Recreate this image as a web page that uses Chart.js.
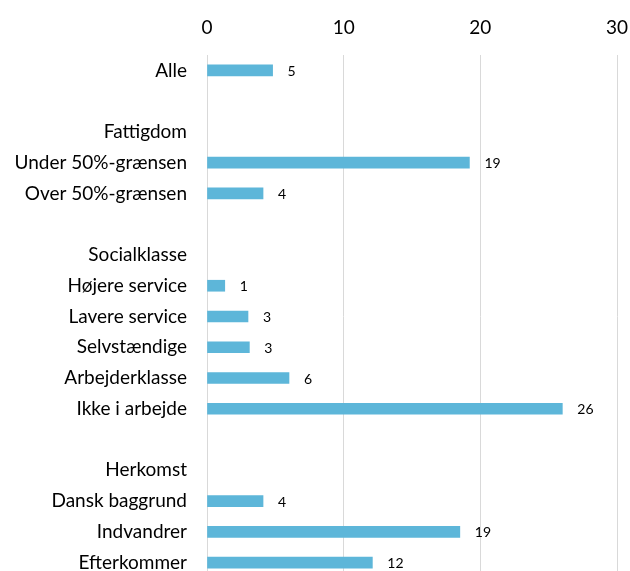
<!DOCTYPE html>
<html>
<head>
<meta charset="utf-8">
<script src="https://cdn.jsdelivr.net/npm/chart.js@4"></script>
<style>
html,body{margin:0;padding:0;background:#fff;overflow:hidden;width:630px;height:571px;}
#c{position:absolute;left:0;top:0;}
</style>
</head>
<body>
<canvas id="c" width="630" height="578"></canvas>
<script>
const categories = ['Alle', '', 'Fattigdom', 'Under 50%-grænsen', 'Over 50%-grænsen', '', 'Socialklasse', 'Højere service', 'Lavere service', 'Selvstændige', 'Arbejderklasse', 'Ikke i arbejde', '', 'Herkomst', 'Dansk baggrund', 'Indvandrer', 'Efterkommer'];
const values = [4.8, null, null, 19.2, 4.1, null, null, 1.3, 3.0, 3.1, 6.0, 26.0, null, null, 4.1, 18.5, 12.1];
const xTicks = [0, 10, 20, 30];

const FONT = 'Lato, "Open Sans", sans-serif';

const valueLabels = {
  id: 'valueLabels',
  afterDatasetsDraw(chart) {
    const ctx = chart.ctx;
    const meta = chart.getDatasetMeta(0);
    ctx.save();
    ctx.font = '14px ' + FONT;
    ctx.fillStyle = '#000';
    ctx.textAlign = 'left';
    ctx.textBaseline = 'middle';
    meta.data.forEach((bar, i) => {
      const v = values[i];
      if (v === null || v === undefined) return;
      ctx.fillText(String(Math.round(v)), bar.x + 15, bar.y + 1);
    });
    ctx.restore();
  }
};

function noPad(s) { s.paddingLeft = 0; s.paddingRight = 0; s.paddingTop = 0; s.paddingBottom = 0; }

new Chart(document.getElementById('c'), {
  type: 'bar',
  data: {
    labels: categories,
    datasets: [{
      data: values,
      backgroundColor: '#5DB6D9',
      barThickness: 11
    }]
  },
  options: {
    indexAxis: 'y',
    responsive: false,
    maintainAspectRatio: false,
    animation: false,
    devicePixelRatio: 1,
    layout: { padding: { left: 0, right: 13, top: 0, bottom: 0 } },
    plugins: { legend: { display: false }, tooltip: { enabled: false } },
    scales: {
      x: {
        position: 'top',
        min: 0, max: 30,
        afterBuildTicks(s) { s.ticks = xTicks.map(v => ({ value: v })); },
        afterFit(s) { s.height = 55; noPad(s); },
        grid: { color: '#d9d9d9', lineWidth: 1, drawTicks: false },
        border: { display: false },
        ticks: { color: '#000', font: { family: FONT, size: 19 }, padding: 16 }
      },
      y: {
        afterFit(s) { s.width = 207; noPad(s); },
        grid: { display: false, drawTicks: false },
        border: { display: false },
        ticks: { color: '#000', font: { family: FONT, size: 19 }, padding: 20, autoSkip: false }
      }
    }
  },
  plugins: [valueLabels]
});
</script>
</body>
</html>
